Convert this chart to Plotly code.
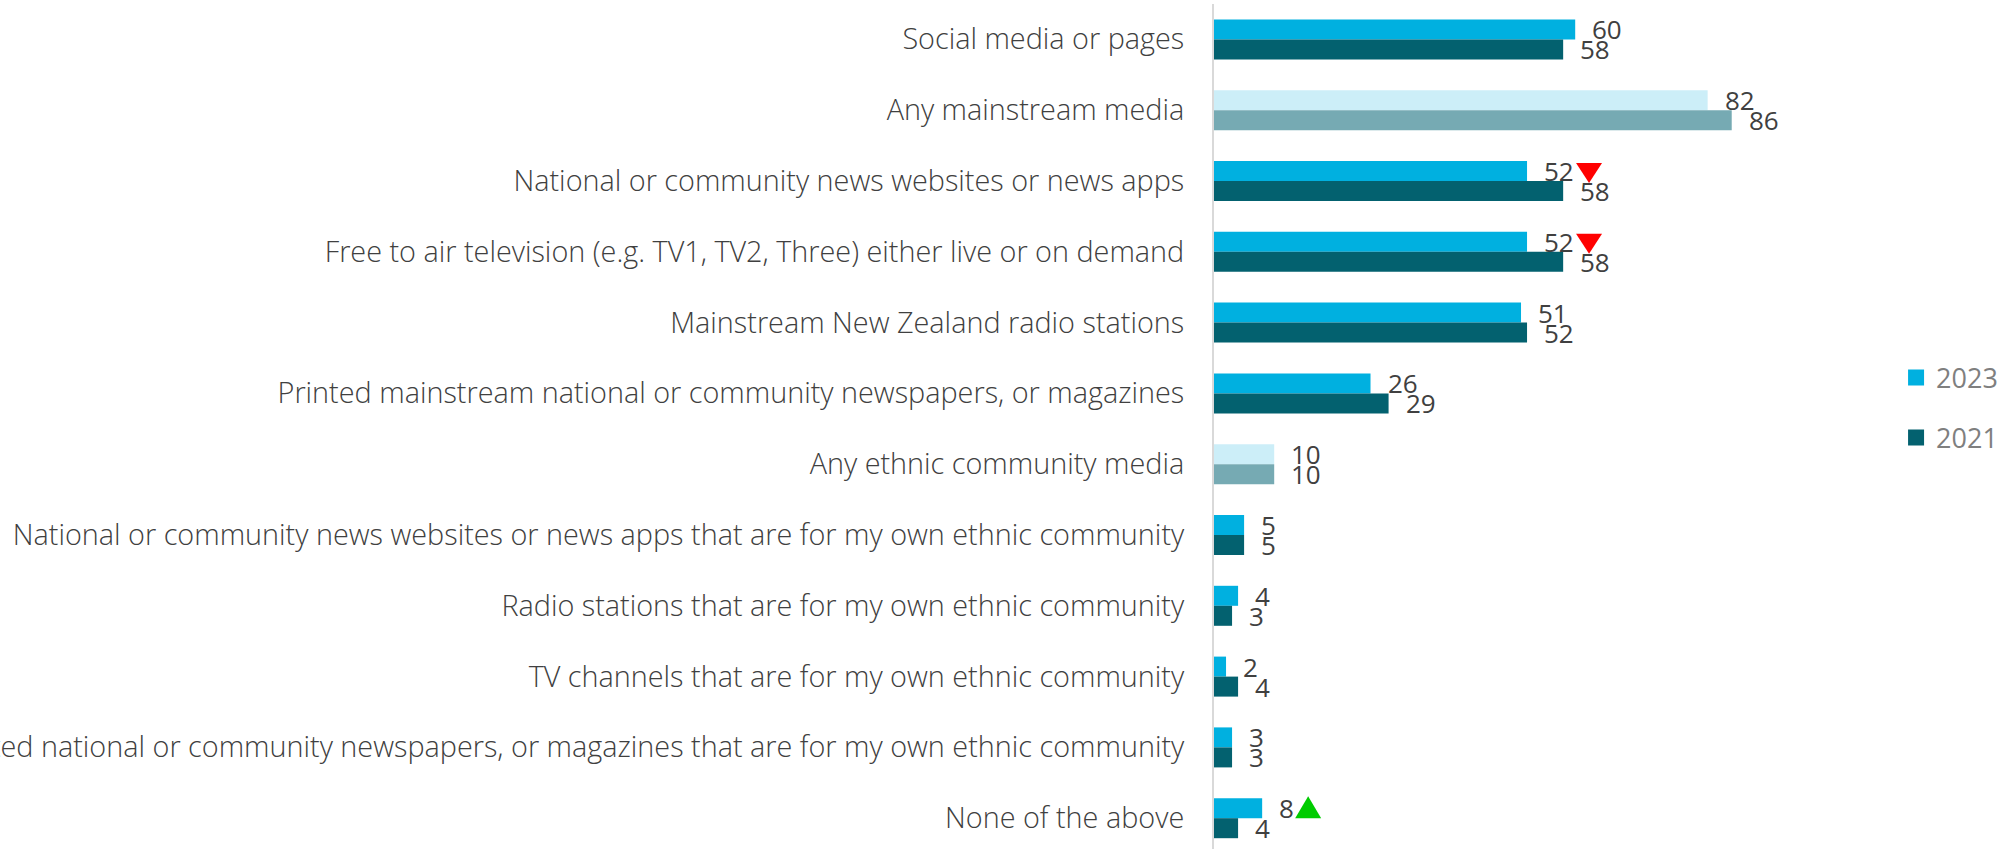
import plotly.graph_objects as go

# Media sources used, % of respondents, 2023 vs 2021
categories = [
    "Social media or pages",
    "Any mainstream media",
    "National or community news websites or news apps",
    "Free to air television (e.g. TV1, TV2, Three) either live or on demand",
    "Mainstream New Zealand radio stations",
    "Printed mainstream national or community newspapers, or magazines",
    "Any ethnic community media",
    "National or community news websites or news apps that are for my own ethnic community",
    "Radio stations that are for my own ethnic community",
    "TV channels that are for my own ethnic community",
    "Printed national or community newspapers, or magazines that are for my own ethnic community",
    "None of the above",
]
values_2023 = [60, 82, 52, 52, 51, 26, 10, 5, 4, 2, 3, 8]
values_2021 = [58, 86, 58, 58, 52, 29, 10, 5, 3, 4, 3, 4]
# rows that summarise a group ("Any ...") are drawn in lighter shades
summary_rows = [False, True, False, False, False, False, True, False, False, False, False, False]
# significant change of 2023 against 2021
change_2023 = ["", "", "down", "down", "", "", "", "", "", "", "", "up"]

C23, C23_LIGHT = "#00B0E0", "#CCEEF8"
C21, C21_LIGHT = "#03616F", "#76AAB3"
LABEL_FONT = "Open Sans"
TEXT_COLOR = "#404040"

colors_2023 = [C23_LIGHT if s else C23 for s in summary_rows]
colors_2021 = [C21_LIGHT if s else C21 for s in summary_rows]

fig = go.Figure()
fig.add_trace(go.Bar(
    name="2023", y=categories, x=values_2023, orientation="h",
    marker=dict(color=colors_2023, line=dict(width=0)),
    showlegend=False, hoverinfo="x+name",
))
fig.add_trace(go.Bar(
    name="2021", y=categories, x=values_2021, orientation="h",
    marker=dict(color=colors_2021, line=dict(width=0)),
    showlegend=False, hoverinfo="x+name",
))
# legend entries with square swatches
for name, col, grp in (("2023", C23, "a"), ("2021", C21, "b")):
    fig.add_trace(go.Scatter(
        name=name, x=[None], y=[None], mode="markers",
        marker=dict(symbol="square", size=17, color=col),
        legendgroup=grp, showlegend=True, hoverinfo="skip",
    ))

annotations = []
shapes = []
for cat, v23, v21, ch in zip(categories, values_2023, values_2021, change_2023):
    for v, dy in ((v23, 10), (v21, -10)):
        annotations.append(dict(
            x=v, y=cat, xref="x", yref="y", text=str(v), showarrow=False,
            xanchor="left", yanchor="middle", xshift=15, yshift=dy,
            font=dict(family=LABEL_FONT, size=26, color=TEXT_COLOR),
        ))
    if ch:
        x0 = 17 + 16 * len(str(v23))
        if ch == "down":
            path = f"M{x0},18 L{x0 + 26},18 L{x0 + 13},-2 Z"
            col = "#FF0000"
        else:
            path = f"M{x0},0 L{x0 + 26},0 L{x0 + 13},22 Z"
            col = "#00CC00"
        shapes.append(dict(
            type="path", xref="x", yref="y", xsizemode="pixel", ysizemode="pixel",
            xanchor=v23, yanchor=cat, path=path,
            fillcolor=col, line=dict(width=0),
        ))

fig.update_layout(
    width=2015, height=849,
    margin=dict(l=1214, r=199, t=4, b=0),
    paper_bgcolor="white", plot_bgcolor="white",
    barmode="group", bargap=0.435, bargroupgap=0,
    showlegend=True,
    legend=dict(
        x=1.133, y=0.522, xanchor="left", yanchor="middle",
        traceorder="grouped", tracegroupgap=22,
        font=dict(family=LABEL_FONT, size=27, color="#7F7F7F"),
        bgcolor="rgba(0,0,0,0)",
    ),
    xaxis=dict(
        range=[0, 100], showgrid=False, zeroline=False, showticklabels=False,
        showline=False, fixedrange=True,
    ),
    yaxis=dict(
        type="category", categoryorder="array", categoryarray=categories,
        range=[11.435, -0.5], showgrid=False, zeroline=False,
        showline=True, linecolor="#D9D9D9", linewidth=2,
        ticks="", ticklabelstandoff=22, automargin=False,
        tickfont=dict(family=LABEL_FONT, size=28.8, color=TEXT_COLOR, weight=300),
    ),
    annotations=annotations,
    shapes=shapes,
)

fig.write_html("out.html")
